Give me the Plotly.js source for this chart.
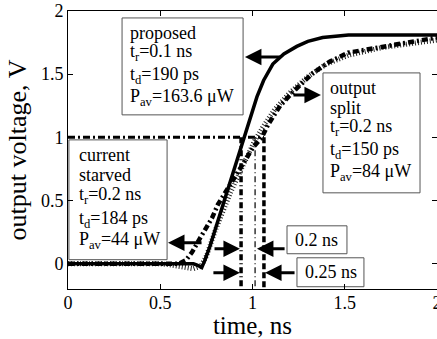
<!DOCTYPE html>
<html>
<head>
<meta charset="utf-8">
<script src="https://cdn.plot.ly/plotly-3.0.1.min.js"></script>
<style>html,body{margin:0;padding:0;background:#fff;}#chart{width:437px;height:339px;}</style>
</head>
<body>
<div id="chart"></div>
<script>
// time axis ticks
const xTickVals = [0, 0.5, 1, 1.5, 2];
const xTickText = ["0", "0.5", "1", "1.5", "2"];
const yTickVals = [0, 0.5, 1, 1.5, 2];
const yTickText = ["0", "0.5", "1", "1.5", "2"];

// proposed (solid)
const tProposed = [0, 0.68, 0.70, 0.725, 0.74, 0.77, 0.80, 0.85, 0.905, 0.95, 0.99, 1.024, 1.06, 1.11, 1.17, 1.24, 1.30, 1.38, 1.52, 2.0];
const vProposed = [0, 0, -0.01, -0.03, 0.02, 0.14, 0.28, 0.51, 0.75, 0.98, 1.16, 1.32, 1.45, 1.58, 1.66, 1.72, 1.76, 1.79, 1.81, 1.81];

// output split (dash-dot)
const tSplit = [0, 0.60, 0.64, 0.672, 0.715, 0.743, 0.78, 0.813, 0.86, 0.90, 0.932, 0.97, 1.003, 1.051, 1.084, 1.15, 1.22, 1.328, 1.42, 1.518, 1.745, 1.962, 2.0];
const vSplit = [0, 0, 0.03, 0.09, 0.20, 0.27, 0.36, 0.47, 0.58, 0.67, 0.75, 0.84, 0.92, 1.0, 1.10, 1.25, 1.36, 1.51, 1.60, 1.67, 1.73, 1.78, 1.79];

// current starved (hatched dotted)
const tStarved = [0, 0.5, 0.56, 0.62, 0.68, 0.72, 0.75, 0.80, 0.84, 0.88, 0.93, 0.975, 1.014, 1.06, 1.12, 1.2, 1.3, 1.4, 1.52, 1.7, 2.0];
const vStarved = [0, 0, -0.01, -0.03, -0.04, -0.02, 0.06, 0.27, 0.42, 0.56, 0.72, 0.87, 0.98, 1.09, 1.22, 1.35, 1.48, 1.58, 1.65, 1.71, 1.77];

// 50% reference level and crossing times
const refLevel = 1.0;
const refStart = 0;
const crossTimes = [0.938, 1.014, 1.062];
const yBottom = -0.2;

const serif = 'Liberation Serif, Times New Roman, serif';

const traces = [];
traces.push({x: [refStart, crossTimes[2]], y: [refLevel, refLevel], mode: 'lines',
  line: {color: '#000', width: 3, dash: '7px,3px,2px,3px'}, hoverinfo: 'skip'});
traces.push({x: [crossTimes[0], crossTimes[0]], y: [refLevel, yBottom], mode: 'lines',
  line: {color: '#000', width: 3.5, dash: '6px,3px,1px,3px'}, hoverinfo: 'skip'});
traces.push({x: [crossTimes[1], crossTimes[1]], y: [refLevel, yBottom], mode: 'lines',
  line: {color: '#000', width: 1.2, dash: '6px,3px,1px,3px'}, hoverinfo: 'skip'});
traces.push({x: [crossTimes[2], crossTimes[2]], y: [refLevel, yBottom], mode: 'lines',
  line: {color: '#000', width: 3.5, dash: '6px,3px'}, hoverinfo: 'skip'});
traces.push({x: tStarved, y: vStarved, mode: 'lines', name: 'current starved',
  line: {color: '#222', width: 5, dash: '1px,2px'}});
traces.push({x: tSplit, y: vSplit, mode: 'lines', name: 'output split',
  line: {color: '#000', width: 4.5, dash: '6px,3px,2px,3px'}});
traces.push({x: tProposed, y: vProposed, mode: 'lines', name: 'proposed',
  line: {color: '#000', width: 3.5}});

function box(x0, x1, y0, y1) {
  return {type: 'rect', xref: 'x', yref: 'y', x0: x0, x1: x1, y0: y0, y1: y1,
    line: {color: '#555', width: 1}, fillcolor: 'rgba(255,255,255,1)', layer: 'below'};
}
const shapes = [
  box(0.293, 0.949, 1.178, 1.945),
  box(0.005, 0.537, 0.032, 0.980),
  box(1.382, 1.908, 0.561, 1.510),
  box(1.187, 1.512, 0.079, 0.300),
  box(1.241, 1.604, -0.182, 0.047)
];

function txt(x, y, s) {
  return {x: x, y: y, xref: 'x', yref: 'y', text: s, showarrow: false,
    xanchor: 'left', yanchor: 'middle', font: {family: serif, size: 18, color: '#000'}};
}
function arr(x, y, ax, ay) {
  return {x: x, y: y, ax: ax, ay: ay, xref: 'x', yref: 'y', axref: 'x', ayref: 'y',
    text: '', showarrow: true, arrowhead: 2, arrowsize: 1.1, arrowwidth: 3, arrowcolor: '#000', standoff: 0};
}
const annotations = [
  txt(0.325, 1.826, 'proposed'),
  txt(0.325, 1.67, 't<sub>r</sub>=0.1 ns'),
  txt(0.325, 1.49, 't<sub>d</sub>=190 ps'),
  txt(0.325, 1.315, 'P<sub>av</sub>=163.6 μW'),
  txt(0.049, 0.862, 'current'),
  txt(0.049, 0.704, 'starved'),
  txt(0.049, 0.54, 't<sub>r</sub>=0.2 ns'),
  txt(0.049, 0.35, 't<sub>d</sub>=184 ps'),
  txt(0.049, 0.185, 'P<sub>av</sub>=44 μW'),
  txt(1.409, 1.391, 'output'),
  txt(1.409, 1.235, 'split'),
  txt(1.409, 1.075, 't<sub>r</sub>=0.2 ns'),
  txt(1.409, 0.895, 't<sub>d</sub>=150 ps'),
  txt(1.409, 0.72, 'P<sub>av</sub>=84 μW'),
  txt(1.22, 0.19, '0.2 ns'),
  txt(1.275, -0.063, '0.25 ns'),
  arr(0.959, 1.636, 1.160, 1.636),
  arr(1.371, 1.336, 1.214, 1.336),
  arr(0.542, 0.166, 0.732, 0.166),
  arr(0.932, 0.119, 0.786, 0.119),
  arr(0.932, -0.071, 0.780, -0.071),
  arr(1.024, 0.119, 1.182, 0.119),
  arr(1.068, -0.071, 1.236, -0.071)
];

const layout = {
  width: 437, height: 339,
  margin: {l: 68, r: 0, t: 11, b: 50, pad: 0},
  paper_bgcolor: '#fff', plot_bgcolor: '#fff',
  showlegend: false,
  font: {family: serif, color: '#000'},
  xaxis: {range: [0, 2], tickvals: xTickVals, ticktext: xTickText, ticks: 'inside', ticklen: 5,
    tickcolor: '#000', showline: true, linecolor: '#000', linewidth: 1, mirror: 'ticks',
    showgrid: false, zeroline: false, tickfont: {family: serif, size: 18},
    ticklabeloverflow: 'allow', ticklabelstandoff: -3, automargin: false,
    title: {text: 'time, ns', font: {family: serif, size: 25}, standoff: 0}},
  yaxis: {range: [-0.2, 2], tickvals: yTickVals, ticktext: yTickText, ticks: 'inside', ticklen: 5,
    tickcolor: '#000', showline: true, linecolor: '#000', linewidth: 1, mirror: 'ticks',
    showgrid: false, zeroline: false, tickfont: {family: serif, size: 18},
    ticklabeloverflow: 'allow', automargin: false,
    title: {text: 'output voltage, V', font: {family: serif, size: 26}, standoff: 6}},
  shapes: shapes,
  annotations: annotations
};

Plotly.newPlot('chart', traces, layout, {displayModeBar: false, staticPlot: true});
</script>
</body>
</html>
